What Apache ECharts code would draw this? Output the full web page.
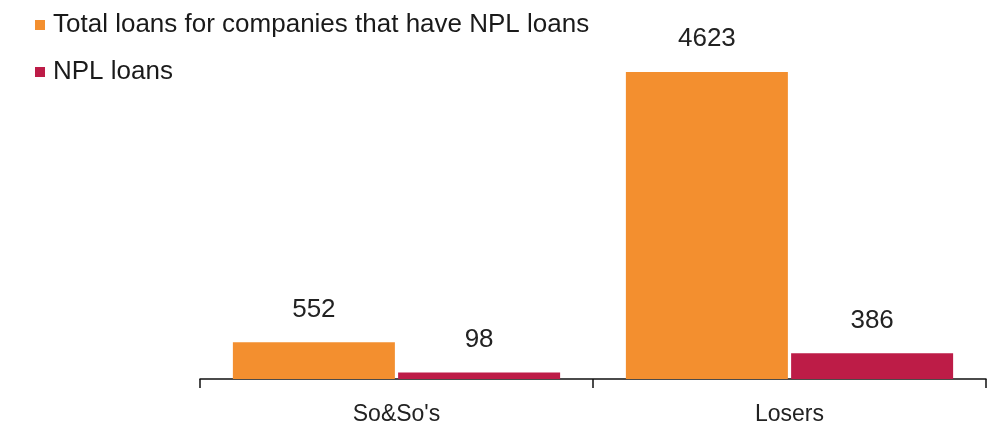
<!DOCTYPE html>
<html>
<head>
<meta charset="utf-8">
<script src="https://cdn.jsdelivr.net/npm/echarts@6/dist/echarts.min.js"></script>
<style>
  html, body { margin: 0; padding: 0; background: #fff; }
  #chart { width: 999px; height: 431px; }
</style>
</head>
<body>
<div id="chart"></div>
<script>
const categories = ["So&So's", 'Losers'];
const seriesNames = ['Total loans for companies that have NPL loans', 'NPL loans'];
const totalLoans = [552, 4623];
const nplLoans = [98, 386];

const chart = echarts.init(document.getElementById('chart'));

const labelStyle = {
  show: true,
  position: 'top',
  distance: 20,
  fontFamily: 'Liberation Sans, Arial, sans-serif',
  fontSize: 26,
  color: '#222'
};

chart.setOption({
  animation: false,
  legend: {
    orient: 'vertical',
    left: 30,
    top: 7,
    icon: 'rect',
    itemWidth: 10,
    itemHeight: 10,
    itemGap: 21,
    data: seriesNames,
    textStyle: {
      fontFamily: 'Liberation Sans, Arial, sans-serif',
      fontSize: 26,
      color: '#1a1a1a',
      padding: [0, 0, 0, 3]
    }
  },
  grid: {
    left: 200,
    right: 13,
    top: 47,
    bottom: 52
  },
  xAxis: {
    type: 'category',
    data: categories,
    axisLine: { lineStyle: { color: '#111', width: 1.5 } },
    axisTick: { show: true, length: 9, lineStyle: { color: '#111', width: 1.5 } },
    axisLabel: {
      margin: 24,
      fontFamily: 'Liberation Sans, Arial, sans-serif',
      fontSize: 23,
      color: '#222'
    }
  },
  yAxis: {
    type: 'value',
    min: 0,
    max: 5000,
    show: false
  },
  series: [
    {
      name: seriesNames[0],
      type: 'bar',
      data: totalLoans,
      barWidth: 162,
      barGap: '2%',
      itemStyle: { color: '#f38f2f' },
      label: labelStyle
    },
    {
      name: seriesNames[1],
      type: 'bar',
      data: nplLoans,
      barWidth: 162,
      barGap: '2%',
      itemStyle: { color: '#bd1c47' },
      label: labelStyle
    }
  ]
});
</script>
</body>
</html>
